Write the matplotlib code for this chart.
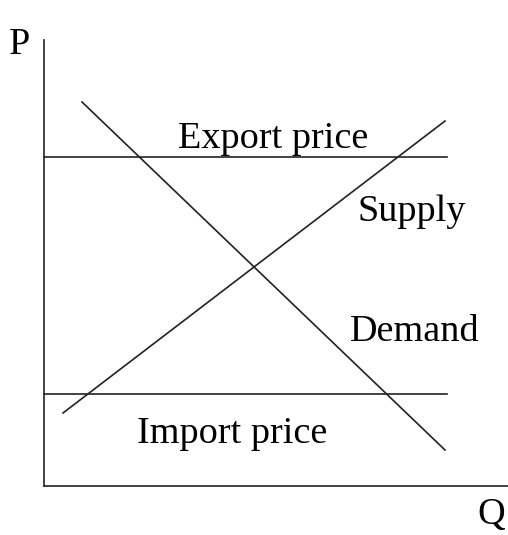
import matplotlib.pyplot as plt

# Quantity / price coordinates (origin at the axes corner)
export_price = 329
import_price = 92
price_line_q = [0, 403]

supply_q = [19, 401]
supply_p = [73, 365]
demand_q = [38, 401]
demand_p = [384, 36]

q_axis_end = 464
p_axis_end = 446

plt.rcParams['font.family'] = ['Liberation Serif', 'DejaVu Serif']

fig = plt.figure(figsize=(5.08, 5.35), dpi=100)
ax = fig.add_axes([0, 0, 1, 1])
ax.set_xlim(-44, 464)
ax.set_ylim(-49, 486)
ax.axis("off")

lw = 1.2
col = "#222222"
# axes
ax.plot([0, 0], [0, p_axis_end], color=col, linewidth=lw)
ax.plot([0, q_axis_end], [0, 0], color=col, linewidth=lw)

# price lines
ax.plot(price_line_q, [export_price, export_price], color=col, linewidth=lw)
ax.plot(price_line_q, [import_price, import_price], color=col, linewidth=lw)

# supply and demand
ax.plot(supply_q, supply_p, color=col, linewidth=lw)
ax.plot(demand_q, demand_p, color=col, linewidth=lw)

fs = 27.5
ax.text(229, 338, "Export price", fontsize=fs, ha="center", va="baseline")
ax.text(313, 274, "Supply", fontsize=fs, ha="left", va="center")
ax.text(306, 154, "Demand", fontsize=fs, ha="left", va="center")
ax.text(93, 43, "Import price", fontsize=fs, ha="left", va="baseline")
ax.text(-25, 441, "P", fontsize=fs, ha="center", va="center")
ax.text(447, -29, "Q", fontsize=fs, ha="center", va="center")

fig.savefig("out.png", dpi=100)
